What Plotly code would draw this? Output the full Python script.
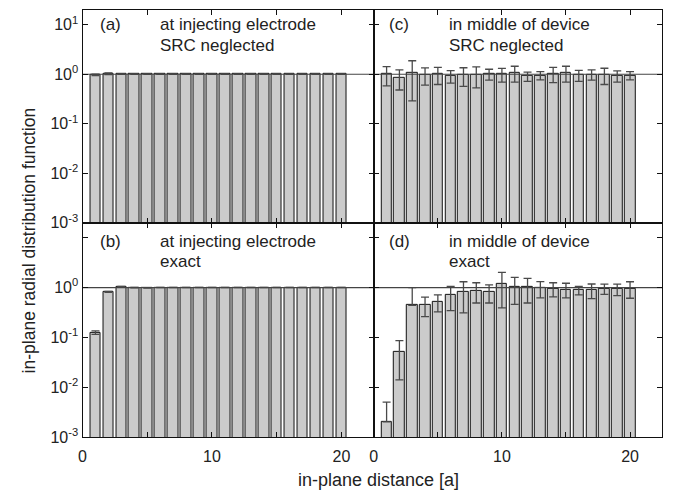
import numpy as np
import plotly.graph_objects as go
from plotly.subplots import make_subplots

# ---------------- data ----------------
distance = list(range(1, 21))

# (a) at injecting electrode, SRC neglected
g_a = [0.97, 1.02] + [1.0] * 18
e_a = [0.03, 0.04] + [0.01] * 18

# (b) at injecting electrode, exact
g_b = [0.125, 0.82, 1.04, 1.0, 0.99] + [1.0] * 15
e_b = [0.01, 0.02, 0.02, 0.01, 0.01] + [0.005] * 15

# (c) in middle of device, SRC neglected
g_c = [1.0, 0.85, 1.08, 0.97, 1.0, 0.92, 0.96, 0.97, 1.01, 1.0,
       1.07, 0.91, 0.95, 1.03, 1.07, 0.96, 0.99, 0.97, 0.93, 0.95]
e_c = [0.42, 0.37, 0.79, 0.37, 0.38, 0.26, 0.39, 0.44, 0.25, 0.31,
       0.38, 0.19, 0.18, 0.35, 0.38, 0.24, 0.23, 0.35, 0.24, 0.18]

# (d) in middle of device, exact
g_d = [0.002, 0.05, 0.44, 0.45, 0.52, 0.70, 0.81, 0.87, 0.81, 1.2,
       1.03, 1.01, 0.97, 0.95, 0.92, 0.88, 0.89, 0.95, 0.93, 0.96]
e_d = [0.003, 0.036, 0.56, 0.19, 0.195, 0.355, 0.5, 0.38, 0.32, 0.81,
       0.57, 0.52, 0.35, 0.3, 0.3, 0.17, 0.29, 0.22, 0.24, 0.35]

panel_labels = ["(a)", "(b)", "(c)", "(d)"]
panel_line1 = ["at injecting electrode", "at injecting electrode",
               "in middle of device", "in middle of device"]
panel_line2 = ["SRC neglected", "exact", "SRC neglected", "exact"]

ref_level = 1.0
x_range = [0, 22.5]
y_log_range = [-3, 1.3]
y_tickvals_top = [1e-3, 1e-2, 1e-1, 1e0, 1e1]
y_ticktext_top = ["10<sup>-3</sup>", "10<sup>-2</sup>", "10<sup>-1</sup>", "10<sup>0</sup>", "10<sup>1</sup>"]
y_tickvals_bot = [1e-3, 1e-2, 1e-1, 1e0]
y_ticktext_bot = ["10<sup>-3</sup>", "10<sup>-2</sup>", "10<sup>-1</sup>", "10<sup>0</sup>"]
y_minor_bot = [1e1]
x_tickvals = [0, 10, 20]
x_ticktext = ["0", "10", "20"]
x_minor = [5, 15]

# ---------------- figure ----------------
W, H = 673, 494
FONT = "Liberation Sans, Arial, sans-serif"
BAR_FILL = "#cbcbcb"
ERR_COL = "#4a4a4a"
TXT = "#222222"

fig = make_subplots(rows=2, cols=2, horizontal_spacing=0, vertical_spacing=0)

panels = [(g_a, e_a, 1, 1), (g_b, e_b, 2, 1), (g_c, e_c, 1, 2), (g_d, e_d, 2, 2)]
for vals, errs, r, c in panels:
    vals = np.array(vals, dtype=float)
    errs = np.array(errs, dtype=float)
    minus = np.where(errs >= vals, 0.0, errs)
    fig.add_trace(go.Bar(
        x=distance, y=vals, width=0.82,
        marker=dict(color=BAR_FILL, line=dict(color="#111111", width=1)),
        error_y=dict(type="data", array=errs, arrayminus=minus, symmetric=False,
                     color=ERR_COL, thickness=1.3, width=4),
        showlegend=False, hoverinfo="skip"), row=r, col=c)
    fig.add_trace(go.Scatter(
        x=x_range, y=[ref_level, ref_level], mode="lines",
        line=dict(color="#444444", width=1.2),
        showlegend=False, hoverinfo="skip"), row=r, col=c)

# domains in pixels
xl = (79 / W, 372 / W)
xr = (372 / W, 662 / W)
yt = (1 - 227 / H, 1 - 10 / H)
yb = (1 - 445 / H, 1 - 227 / H)

axis_common = dict(showline=True, linecolor="#111111", linewidth=1.3, mirror="ticks",
                   ticks="inside", ticklen=5, tickwidth=1.3, tickcolor="#111111",
                   showgrid=False, zeroline=False,
                   tickfont=dict(family=FONT, size=16, color=TXT))
minor_common = dict(ticks="inside", ticklen=5, tickwidth=1.3, tickcolor="#111111", showgrid=False)

for (r, c) in [(1, 1), (1, 2), (2, 1), (2, 2)]:
    xd = xl if c == 1 else xr
    yd = yt if r == 1 else yb
    fig.update_xaxes(domain=list(xd), range=x_range, tickvals=x_tickvals,
                     ticktext=x_ticktext, showticklabels=(r == 2),
                     ticklabelstandoff=5,
                     minor=dict(tickvals=x_minor, **minor_common),
                     row=r, col=c, **axis_common)
    if r == 1:
        fig.update_yaxes(domain=list(yd), type="log", range=y_log_range,
                         tickvals=y_tickvals_top, ticktext=y_ticktext_top,
                         showticklabels=(c == 1), row=r, col=c, **axis_common)
    else:
        fig.update_yaxes(domain=list(yd), type="log", range=y_log_range,
                         tickvals=y_tickvals_bot, ticktext=y_ticktext_bot,
                         minor=dict(tickvals=y_minor_bot, **minor_common),
                         showticklabels=(c == 1), row=r, col=c, **axis_common)

annotations = []
spec = [  # panel index, label x, text x, line1 y, line2 y  (pixels)
    (0, 95, 155, 25, 46),
    (1, 95, 155, 246, 266),
    (2, 385, 446, 25, 46),
    (3, 385, 446, 246, 266),
]
for idx, lx, tx, y1, y2 in spec:
    for text, xx, yy in [(panel_labels[idx], lx, y1), (panel_line1[idx], tx, y1), (panel_line2[idx], tx, y2)]:
        annotations.append(dict(text=text, x=xx / W, y=1 - yy / H, xref="paper", yref="paper",
                                xanchor="left", yanchor="middle", showarrow=False,
                                font=dict(family=FONT, size=17, color=TXT)))

annotations.append(dict(text="in-plane distance [a]", x=377 / W, y=1 - 489 / H,
                        xref="paper", yref="paper", xanchor="center", yanchor="middle",
                        showarrow=False, font=dict(family=FONT, size=18, color=TXT)))
annotations.append(dict(text="in-plane radial distribution function", x=25 / W, y=1 - 245 / H,
                        xref="paper", yref="paper", xanchor="center", yanchor="middle",
                        textangle=-90, showarrow=False,
                        font=dict(family=FONT, size=17.5, color=TXT)))

fig.update_layout(width=W, height=H, margin=dict(l=0, r=0, t=0, b=0),
                  paper_bgcolor="white", plot_bgcolor="white",
                  bargap=0, annotations=annotations,
                  font=dict(family=FONT, color=TXT))

fig.write_html("out.html")
